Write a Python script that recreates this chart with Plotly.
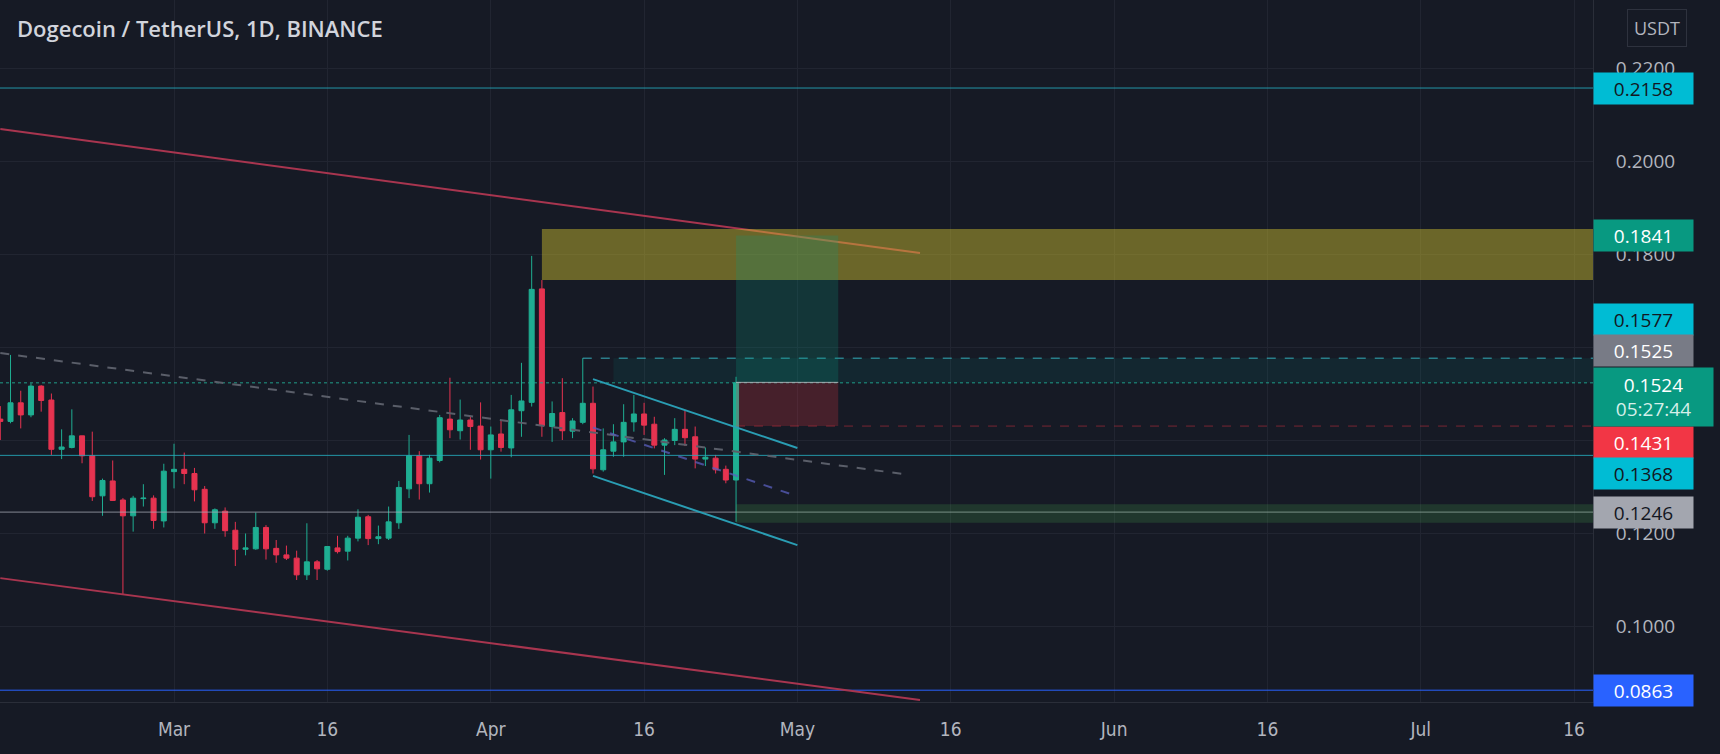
import pandas as pd
import plotly.graph_objects as go

# ---------------- data ----------------
dates = pd.date_range("2022-02-12", "2022-04-25", freq="D")
opens = [.1446, .1441, .1481, .1455, .1517, .1487, .1381, .1385, .1410, .1367, .1281, .1313, .1272, .1238, .1275, .1276, .1227,
         .1333, .1338, .1329, .1295, .1223, .1248, .1207, .1166, .1167, .1213, .1168, .1154, .1147, .1111, .1139, .1123,
         .1169, .1162, .1190, .1236, .1189, .1190, .1223, .1296, .1367, .1307, .1357, .1446, .1421, .1444, .1431,
         .1380, .1414, .1384, .1464, .1482, .1726, .1430, .1460, .1420, .1439, .1480, .1337, .1377, .1397, .1440, .1457,
         .1435, .1390, .1400, .1424, .1408, .1360, .1362, .1338, .1315]
highs = [.1474, .1584, .1507, .1523, .1519, .1501, .1424, .1467, .1410, .1419, .1318, .1357, .1276, .1281, .1306, .1282, .1350,
         .1393, .1374, .1341, .1302, .1254, .1256, .1225, .1200, .1245, .1218, .1186, .1174, .1163, .1222, .1143, .1173,
         .1195, .1195, .1252, .1240, .1217, .1258, .1313, .1412, .1377, .1369, .1455, .1535, .1488, .1453, .1482,
         .1430, .1444, .1498, .1567, .1797, .1745, .1484, .1534, .1448, .1577, .1516, .1426, .1435, .1478, .1498, .1481,
         .1451, .1405, .1448, .1466, .1430, .1385, .1369, .1346, .1537]
lows = [.1401, .1437, .1426, .1450, .1462, .1369, .1360, .1383, .1351, .1270, .1238, .1270, .1068, .1204, .1258, .1210, .1213,
        .1297, .1306, .1269, .1200, .1210, .1193, .1130, .1153, .1165, .1144, .1137, .1143, .1100, .1100, .1100, .1120,
        .1157, .1142, .1183, .1175, .1177, .1186, .1210, .1276, .1273, .1288, .1353, .1405, .1402, .1380, .1359,
        .1318, .1376, .1364, .1408, .1473, .1408, .1397, .1401, .1405, .1435, .1329, .1333, .1365, .1365, .1419, .1412,
        .1383, .1326, .1390, .1388, .1340, .1345, .1329, .1308, .1225]
closes = [.1441, .1481, .1455, .1517, .1486, .1381, .1386, .1410, .1367, .1279, .1314, .1271, .1238, .1276, .1276, .1228, .1334,
          .1338, .1329, .1294, .1223, .1251, .1206, .1166, .1169, .1213, .1167, .1154, .1147, .1111, .1139, .1124, .1172,
          .1161, .1190, .1235, .1189, .1193, .1225, .1299, .1367, .1307, .1362, .1449, .1423, .1444, .1430, .1380,
          .1412, .1385, .1466, .1485, .1725, .1432, .1458, .1421, .1442, .1480, .1339, .1380, .1397, .1439, .1457, .1433,
          .1390, .1401, .1424, .1406, .1360, .1364, .1337, .1315, .1524]

# axis ticks
x_tick_dates = ["2022-03-01", "2022-03-16", "2022-04-01", "2022-04-16", "2022-05-01",
                "2022-05-16", "2022-06-01", "2022-06-16", "2022-07-01", "2022-07-16"]
x_tick_text = ["Mar", "16", "Apr", "16", "May", "16", "Jun", "16", "Jul", "16"]
y_tick_vals = [0.10, 0.12, 0.14, 0.16, 0.18, 0.20, 0.22]
x_range = ["2022-02-11 23:17", "2022-07-17 20:38"]
y_range = [0.08376, 0.23473]

# drawings
upper_red_x = ["2022-02-12", "2022-05-13"]
upper_red_y = [0.2070, 0.1803]
lower_red_x = ["2022-02-12", "2022-05-13"]
lower_red_y = [0.1104, 0.0842]
grey_dash_x = ["2022-02-12", "2022-05-12"]
grey_dash_y = [0.1588, 0.1326]
channel_top_x = ["2022-04-11", "2022-05-01"]
channel_top_y = [0.1532, 0.1384]
channel_bot_x = ["2022-04-11", "2022-05-01"]
channel_bot_y = [0.1324, 0.1175]
channel_mid_y = [0.1428, 0.1280]

cyan_levels = [0.2158, 0.1368]
grey_level = 0.1246
blue_level = 0.0863
last_price = 0.1524

zone_x0 = "2022-04-06"
zone_y = [0.1745, 0.1855]

pos_x = ["2022-04-25", "2022-05-05"]
pos_entry = 0.1525
pos_target = 0.1841
pos_stop = 0.1431

band_x0 = "2022-04-13"
band_y = [0.1524, 0.1577]
res_x0 = "2022-04-10"
res_level = 0.1577

demand_x0 = "2022-04-25"
demand_y = [0.1223, 0.1263]

# ---------------- style ----------------
BG = "#161a25"
GRID = "#212531"
TXT = "#b2b5be"
GREEN = "#1fae92"
RED = "#e63350"
CYAN = "#00bcd4"
PLOT_W = 1593
PLOT_H = 702

fig = go.Figure()
fig.add_trace(go.Candlestick(
    x=dates, open=opens, high=highs, low=lows, close=closes,
    increasing=dict(line=dict(color=GREEN, width=1), fillcolor=GREEN),
    decreasing=dict(line=dict(color=RED, width=1), fillcolor=RED),
    whiskerwidth=0, hoverinfo="skip", showlegend=False))

shapes = []


def seg(x, y, color, width=1, dash="solid"):
    shapes.append(dict(type="line", xref="x", yref="y", x0=x[0], x1=x[1], y0=y[0], y1=y[1],
                       line=dict(color=color, width=width, dash=dash), layer="above"))


def hline(level, color, width=1, dash="solid", x0=None):
    if x0 is None:
        shapes.append(dict(type="line", xref="paper", yref="y", x0=0, x1=1, y0=level, y1=level,
                           line=dict(color=color, width=width, dash=dash), layer="above"))
    else:
        shapes.append(dict(type="line", xref="x", yref="y", x0=x0, x1=x_range[1], y0=level, y1=level,
                           line=dict(color=color, width=width, dash=dash), layer="above"))


def rect(x0, x1, y0, y1, fill):
    shapes.append(dict(type="rect", xref="x", yref="y", x0=x0, x1=x1, y0=y0, y1=y1,
                       fillcolor=fill, line=dict(width=0), layer="above"))


# horizontal levels
for lv in cyan_levels:
    hline(lv, "rgba(38,170,190,0.85)", 1)
hline(grey_level, "rgba(170,174,184,0.75)", 1)
hline(blue_level, "#2962ff", 1)
hline(last_price, "rgba(34,171,148,0.9)", 1, "dot")
hline(res_level, "rgba(60,190,205,0.9)", 1, "dash", x0=res_x0)
hline(pos_stop, "rgba(242,54,69,0.45)", 1, "dash", x0=pos_x[0])

# diagonal lines
seg(upper_red_x, upper_red_y, "#a8354f", 2)
seg(lower_red_x, lower_red_y, "#a8354f", 2)
seg(grey_dash_x, grey_dash_y, "#5a5e69", 2, "dash")
seg(channel_top_x, channel_top_y, "#2a9db3", 2)
seg(channel_bot_x, channel_bot_y, "#2a9db3", 2)
seg(channel_top_x, channel_mid_y, "rgba(90,95,190,0.75)", 2, "dash")

# boxes
rect(zone_x0, x_range[1], zone_y[0], zone_y[1], "rgba(200,185,45,0.48)")
rect(band_x0, x_range[1], band_y[0], band_y[1], "rgba(0,160,150,0.10)")
rect(demand_x0, x_range[1], demand_y[0], demand_y[1], "rgba(76,175,80,0.20)")
rect(pos_x[0], pos_x[1], pos_entry, pos_target, "rgba(8,153,129,0.22)")
rect(pos_x[0], pos_x[1], pos_stop, pos_entry, "rgba(242,54,69,0.22)")
seg(pos_x, [pos_entry, pos_entry], "rgba(190,195,200,0.8)", 1)

# ---------------- price labels ----------------
labels = [
    (0.2158, "0.2158", CYAN, "#131722", 0),
    (0.1841, "0.1841", "#089981", "#ffffff", 0),
    (0.1577, "0.1577", CYAN, "#131722", 39),
    (0.1525, "0.1525", "#787b86", "#ffffff", 32),
    (0.1431, "0.1431", "#f23645", "#ffffff", -16),
    (0.1368, "0.1368", CYAN, "#131722", -18),
    (0.1246, "0.1246", "#a3a6af", "#131722", 0),
    (0.0863, "0.0863", "#2962ff", "#ffffff", 0),
]
annotations = []
for lv, txt, bg, fg, ysh in labels:
    annotations.append(dict(xref="paper", yref="y", x=1, y=lv, xanchor="left", yanchor="middle",
                            yshift=ysh, text=txt, showarrow=False, bgcolor=bg, width=91, height=23,
                            borderpad=4, align="center",
                            font=dict(family="Open Sans", size=19, color=fg)))
annotations.append(dict(xref="paper", yref="y", x=1, y=last_price, xanchor="left", yanchor="top",
                        yshift=16, text="0.1524<br><span style='color:#d6efe9'>05:27:44</span>",
                        showarrow=False, bgcolor="#089981", width=111, height=50, borderpad=4,
                        align="center", font=dict(family="Open Sans", size=19, color="#ffffff")))
annotations.append(dict(xref="paper", yref="paper", x=15 / PLOT_W, y=1 - 28 / PLOT_H, xanchor="left",
                        yanchor="middle", text="Dogecoin / TetherUS, 1D, BINANCE", showarrow=False,
                        font=dict(family="Open Sans", size=22, color="#d1d4dc", weight=600)))
annotations.append(dict(xref="paper", yref="paper", x=1657 / PLOT_W, y=1 - 28.5 / PLOT_H, xanchor="center",
                        yanchor="middle", text="USDT", showarrow=False, bgcolor=BG,
                        bordercolor="#2e323e", borderwidth=1, borderpad=6,
                        font=dict(family="Open Sans", size=18, color=TXT)))

fig.update_layout(
    width=1720, height=754,
    margin=dict(l=0, r=127, t=0, b=52),
    paper_bgcolor=BG, plot_bgcolor=BG,
    shapes=shapes, annotations=annotations,
    showlegend=False,
    xaxis=dict(type="date", range=x_range, rangeslider=dict(visible=False),
               tickvals=x_tick_dates, ticktext=x_tick_text, ticks="",
               showgrid=True, gridcolor=GRID, gridwidth=1, zeroline=False,
               showline=True, linecolor="#2a2e39", linewidth=1,
               tickfont=dict(family="Liberation Sans Narrow, DejaVu Sans Condensed, Roboto", size=19, color=TXT),
               ticklabelstandoff=10),
    yaxis=dict(side="right", range=y_range, tickvals=y_tick_vals, tickformat=".4f", ticks="",
               showgrid=True, gridcolor=GRID, gridwidth=1, zeroline=False,
               showline=True, linecolor="#2a2e39", linewidth=1,
               tickfont=dict(family="Open Sans", size=19, color=TXT), ticklabelstandoff=18),
)

fig.write_html("out.html", config={"displayModeBar": False},
               post_script="document.body.style.margin='0';document.body.style.background='#161a25';")
